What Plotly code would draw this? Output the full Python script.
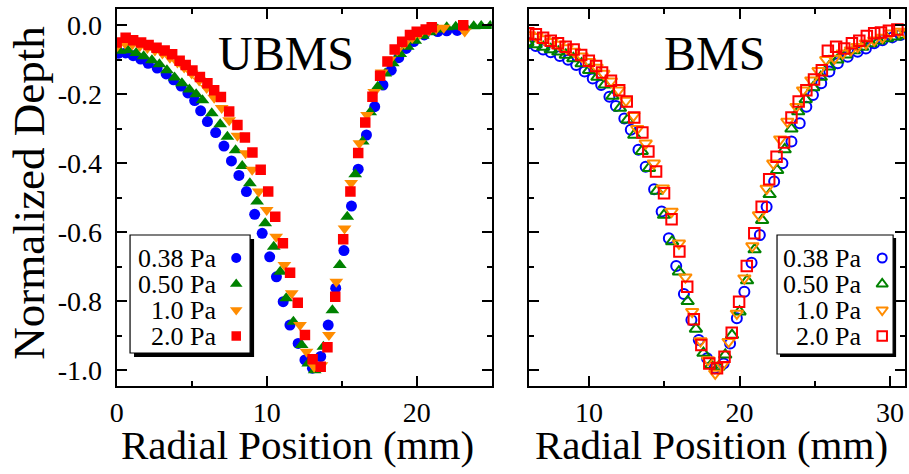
import plotly.graph_objects as go

# ---------------- data: normalized etch depth vs radial position ----------------
pressures = ["0.38 Pa", "0.50 Pa", "1.0 Pa", "2.0 Pa"]
colors = ["#0000ff", "#008200", "#ff8c00", "#ff0000"]
filled_symbols = ["circle", "triangle-up", "triangle-down", "square"]
open_symbols = ["circle-open", "triangle-up-open", "triangle-down-open", "square-open"]

# UBMS (unbalanced magnetron)
ubms_x_038 = [0.1, 0.6, 1.1, 1.6, 2.1, 2.7, 3.3, 3.8, 4.3, 4.75, 5.2, 5.6, 6.05, 6.6, 7.15, 7.65,
              8.15, 8.65, 9.2, 9.7, 10.2, 10.65, 11.1, 11.55, 12.1, 12.55, 13.05, 13.6, 14.1, 14.6,
              15.15, 15.65, 16.1, 16.65, 17.2, 17.75, 18.3, 18.8, 19.3, 19.8, 20.5, 21.4, 22.0, 22.7]
ubms_y_038 = [-0.081, -0.080, -0.088, -0.098, -0.110, -0.124, -0.141, -0.158, -0.176, -0.196, -0.218,
              -0.248, -0.279, -0.311, -0.350, -0.393, -0.435, -0.482, -0.548, -0.603, -0.671, -0.729,
              -0.801, -0.869, -0.922, -0.970, -0.994, -0.960, -0.869, -0.762, -0.653, -0.524, -0.417,
              -0.318, -0.236, -0.173, -0.130, -0.094, -0.067, -0.047, -0.028, -0.018, -0.016, -0.015]

ubms_x_050 = [0.2, 0.75, 1.3, 1.8, 2.35, 2.85, 3.35, 3.86, 4.35, 4.85, 5.3, 5.72, 6.34, 6.9, 7.38,
              7.93, 8.37, 8.88, 9.36, 9.9, 10.47, 10.9, 11.3, 11.78, 12.33, 12.77, 13.2, 13.78, 14.38,
              14.87, 15.37, 15.9, 16.4, 16.9, 17.4, 17.9, 18.4, 18.9, 19.4, 19.9, 20.4, 20.9, 21.4,
              22.0, 22.6, 23.2, 23.8, 24.3, 24.9]
ubms_y_050 = [-0.074, -0.072, -0.080, -0.090, -0.101, -0.113, -0.130, -0.151, -0.168, -0.186, -0.200,
              -0.217, -0.255, -0.287, -0.323, -0.362, -0.408, -0.458, -0.511, -0.574, -0.642, -0.714,
              -0.791, -0.859, -0.927, -0.980, -1.000, -0.932, -0.826, -0.695, -0.555, -0.432, -0.337,
              -0.252, -0.178, -0.140, -0.110, -0.083, -0.062, -0.045, -0.030, -0.020, -0.012, -0.006,
              -0.004, -0.003, -0.003, -0.002, -0.002]

ubms_x_10 = [0.05, 0.55, 1.05, 1.55, 2.05, 2.55, 3.05, 3.55, 4.05, 4.5, 5.0, 5.5, 6.0, 6.5, 7.0,
             7.5, 8.05, 8.59, 9.03, 9.47, 10.0, 10.63, 11.18, 11.67, 12.22, 12.66, 13.16, 13.65,
             14.15, 14.64, 15.19, 15.63, 16.18, 16.69, 17.17, 17.66, 18.2, 18.7, 19.2, 19.7, 20.2,
             20.8, 21.3, 21.8, 23.2]
ubms_y_10 = [-0.060, -0.052, -0.055, -0.060, -0.066, -0.073, -0.082, -0.094, -0.108, -0.122, -0.140,
             -0.160, -0.182, -0.210, -0.240, -0.275, -0.320, -0.371, -0.419, -0.482, -0.535, -0.613,
             -0.695, -0.777, -0.869, -0.946, -0.990, -0.985, -0.898, -0.743, -0.589, -0.457, -0.342,
             -0.260, -0.193, -0.137, -0.100, -0.072, -0.052, -0.036, -0.025, -0.016, -0.010, -0.007,
             -0.018]

ubms_x_20 = [0.0, 0.6, 1.1, 1.63, 2.13, 2.66, 3.2, 3.7, 4.2, 4.6, 5.05, 5.55, 6.05, 6.5, 6.95, 7.5,
             8.05, 8.55, 9.05, 9.6, 10.1, 10.57, 11.08, 11.56, 12.07, 12.55, 13.06, 13.6, 14.05,
             14.57, 15.1, 15.58, 16.1, 16.57, 17.05, 17.56, 18.05, 18.53, 19.03, 19.55, 20.0, 20.6,
             21.0, 23.1]
ubms_y_20 = [-0.050, -0.036, -0.043, -0.050, -0.057, -0.065, -0.073, -0.084, -0.103, -0.115, -0.131,
             -0.150, -0.168, -0.188, -0.208, -0.250, -0.289, -0.325, -0.369, -0.419, -0.482, -0.555,
             -0.632, -0.717, -0.804, -0.898, -0.968, -0.990, -0.933, -0.787, -0.620, -0.482, -0.370,
             -0.282, -0.207, -0.146, -0.105, -0.070, -0.048, -0.028, -0.019, -0.012, -0.006, 0.000]

# BMS (balanced magnetron)
bms_x_038 = [5.95, 6.45, 6.94, 7.45, 8.05, 8.6, 9.14, 9.7, 10.24, 10.8, 11.35, 11.78, 12.34, 12.77,
             13.28, 13.76, 14.32, 14.82, 15.3, 15.79, 16.3, 16.8, 17.29, 17.84, 18.34, 18.94, 19.37,
             19.82, 20.32, 20.8, 21.35, 21.8, 22.3, 22.85, 23.45, 24.0, 24.44, 24.88, 25.43, 25.97,
             26.53, 27.19, 27.85, 28.4, 28.95, 29.5, 30.16, 30.7]
bms_y_038 = [-0.052, -0.060, -0.070, -0.078, -0.089, -0.100, -0.115, -0.134, -0.154, -0.173, -0.207,
             -0.234, -0.270, -0.303, -0.361, -0.410, -0.475, -0.540, -0.617, -0.698, -0.779, -0.854,
             -0.912, -0.965, -0.994, -0.980, -0.922, -0.849, -0.772, -0.688, -0.608, -0.526, -0.453,
             -0.400, -0.337, -0.284, -0.236, -0.202, -0.168, -0.134, -0.110, -0.091, -0.077, -0.067,
             -0.052, -0.043, -0.035, -0.028]

bms_x_050 = [5.9, 6.45, 6.95, 7.45, 7.95, 8.45, 8.95, 9.5, 10.0, 10.55, 11.05, 11.55, 12.05, 12.55,
             13.0, 13.5, 13.98, 14.5, 14.98, 15.52, 15.97, 16.55, 17.1, 17.6, 18.1, 18.6, 19.05, 19.5,
             20.0, 20.5, 21.0, 21.5, 22.0, 22.5, 23.0, 23.45, 23.9, 24.4, 24.9, 25.4, 25.95, 26.5,
             27.05, 27.6, 28.15, 28.7, 29.25, 29.8, 30.35, 30.9]
bms_y_050 = [-0.050, -0.056, -0.063, -0.070, -0.077, -0.086, -0.096, -0.111, -0.130, -0.150, -0.172,
             -0.205, -0.240, -0.274, -0.318, -0.365, -0.414, -0.480, -0.550, -0.627, -0.714, -0.800,
             -0.880, -0.950, -0.985, -0.990, -0.955, -0.898, -0.830, -0.740, -0.650, -0.565, -0.490,
             -0.420, -0.360, -0.300, -0.250, -0.215, -0.180, -0.150, -0.120, -0.100, -0.085, -0.073,
             -0.063, -0.053, -0.045, -0.038, -0.033, -0.028]

bms_x_10 = [6.0, 6.5, 7.0, 7.5, 8.0, 8.5, 9.0, 9.5, 10.0, 10.5, 10.95, 11.45, 11.95, 12.45, 12.95,
            13.2, 13.76, 14.3, 14.9, 15.48, 15.97, 16.4, 16.85, 17.4, 17.9, 18.38, 18.85, 19.27, 19.82,
            20.32, 20.85, 21.29, 21.8, 22.24, 22.7, 23.18, 23.78, 24.22, 24.77, 25.25, 25.76, 26.3,
            26.86, 27.4, 27.85, 28.4, 28.95, 29.5, 30.05, 30.6, 31.0]
bms_y_10 = [-0.028, -0.033, -0.040, -0.048, -0.056, -0.066, -0.076, -0.090, -0.106, -0.122, -0.140,
            -0.162, -0.188, -0.218, -0.262, -0.300, -0.342, -0.400, -0.472, -0.540, -0.632, -0.730,
            -0.830, -0.915, -0.970, -1.009, -0.985, -0.917, -0.835, -0.733, -0.640, -0.550, -0.473,
            -0.400, -0.330, -0.279, -0.236, -0.188, -0.159, -0.132, -0.100, -0.096, -0.081, -0.072,
            -0.062, -0.052, -0.043, -0.035, -0.023, -0.018, -0.021]

bms_x_20 = [5.95, 6.46, 6.94, 7.45, 7.93, 8.44, 8.97, 9.47, 9.98, 10.46, 10.86, 11.45, 12.0, 12.5,
            13.0, 13.54, 13.94, 14.45, 14.98, 15.48, 16.0, 16.52, 16.96, 17.46, 17.99, 18.5, 19.0,
            19.48, 19.97, 20.48, 20.98, 21.47, 21.97, 22.46, 22.96, 23.45, 23.93, 24.44, 24.95,
            25.47, 25.87, 26.42, 26.96, 27.47, 27.96, 28.46, 28.95, 29.4, 29.93, 30.49]
bms_y_20 = [-0.023, -0.026, -0.036, -0.045, -0.052, -0.062, -0.070, -0.086, -0.103, -0.118, -0.137,
            -0.161, -0.188, -0.221, -0.267, -0.311, -0.366, -0.424, -0.487, -0.562, -0.656, -0.758,
            -0.852, -0.927, -0.980, -0.994, -0.961, -0.891, -0.801, -0.698, -0.603, -0.526, -0.446,
            -0.381, -0.340, -0.267, -0.221, -0.188, -0.157, -0.130, -0.074, -0.062, -0.067, -0.052,
            -0.045, -0.031, -0.023, -0.021, -0.016, -0.012]

ubms_series = [(ubms_x_038, ubms_y_038), (ubms_x_050, ubms_y_050),
               (ubms_x_10, ubms_y_10), (ubms_x_20, ubms_y_20)]
bms_series = [(bms_x_038, bms_y_038), (bms_x_050, bms_y_050),
              (bms_x_10, bms_y_10), (bms_x_20, bms_y_20)]

y_tick_vals = [0.0, -0.2, -0.4, -0.6, -0.8, -1.0]
y_tick_text = ["0.0", "-0.2", "-0.4", "-0.6", "-0.8", "-1.0"]
ubms_x_tick_vals = [0, 10, 20]
ubms_x_tick_text = ["0", "10", "20"]
bms_x_tick_vals = [10, 20, 30]
bms_x_tick_text = ["10", "20", "30"]

# ---------------- layout constants (pixels in a 909 x 474 page) ----------------
W, H = 909, 474
FONT = "Liberation Serif, Times New Roman, serif"
LEFT_PX = (110.5, 488.5)
RIGHT_PX = (526.0, 905.0)
TOP_PX, BOTTOM_PX = 9.0, 386.0

filled_sizes = [11, 12, 12, 10.5]
open_sizes = [10, 11, 11, 10.5]


def xdom(px):
    return [px[0] / W, px[1] / W]


ydom = [1 - BOTTOM_PX / H, 1 - TOP_PX / H]

fig = go.Figure()

for (xs, ys), name, c, sym, sz in zip(ubms_series, pressures, colors, filled_symbols, filled_sizes):
    fig.add_trace(go.Scatter(x=xs, y=ys, mode="markers", name=name, showlegend=False,
                             xaxis="x", yaxis="y",
                             marker=dict(symbol=sym, size=sz, color=c, line=dict(width=0))))

for (xs, ys), name, c, sym, sz in zip(bms_series, pressures, colors, open_symbols, open_sizes):
    fig.add_trace(go.Scatter(x=xs, y=ys, mode="markers", name=name, showlegend=False,
                             xaxis="x2", yaxis="y2",
                             marker=dict(symbol=sym, size=sz, color=c, line=dict(width=2, color=c))))

# legend keys: drawn on a pixel-unit overlay axis so they sit inside the boxes
LEG_ROWS = [258, 284, 310, 336]
LEG_LEFT = dict(box=(124, 235, 245, 353), shadow=4, text_right=213, key_x=231)
LEG_RIGHT = dict(box=(776, 235, 893, 354), shadow=3, text_right=863, key_x=882)

for i, (c, sym, sz) in enumerate(zip(colors, filled_symbols, filled_sizes)):
    fig.add_trace(go.Scatter(x=[LEG_LEFT["key_x"]], y=[LEG_ROWS[i]], mode="markers",
                             showlegend=False, xaxis="x3", yaxis="y3", hoverinfo="skip",
                             marker=dict(symbol=sym, size=sz - 1, color=c, line=dict(width=0))))
for i, (c, sym, sz) in enumerate(zip(colors, open_symbols, open_sizes)):
    fig.add_trace(go.Scatter(x=[LEG_RIGHT["key_x"]], y=[LEG_ROWS[i]], mode="markers",
                             showlegend=False, xaxis="x3", yaxis="y3", hoverinfo="skip",
                             marker=dict(symbol=sym, size=sz - 1, color=c,
                                         line=dict(width=2, color=c))))

shapes = []
annotations = []
for leg in (LEG_LEFT, LEG_RIGHT):
    x0, y0, x1, y1 = leg["box"]
    s = leg["shadow"]
    shapes.append(dict(type="rect", xref="paper", yref="paper", layer="below",
                       x0=(x0 + s) / W, x1=(x1 + s) / W, y0=1 - (y1 + s) / H, y1=1 - (y0 + s) / H,
                       fillcolor="black", line=dict(width=0)))
    shapes.append(dict(type="rect", xref="paper", yref="paper", layer="below",
                       x0=x0 / W, x1=x1 / W, y0=1 - y1 / H, y1=1 - y0 / H,
                       fillcolor="white", line=dict(color="black", width=1.2)))
    for i, name in enumerate(pressures):
        annotations.append(dict(xref="paper", yref="paper", x=leg["text_right"] / W,
                                y=1 - LEG_ROWS[i] / H, xanchor="right", yanchor="middle",
                                text=name, showarrow=False,
                                font=dict(family=FONT, size=26, color="black")))

# panel labels and axis titles
annotations += [
    dict(xref="paper", yref="paper", x=281 / W, y=1 - 54 / H, text="UBMS", showarrow=False,
         xanchor="center", yanchor="middle", font=dict(family=FONT, size=48, color="black")),
    dict(xref="paper", yref="paper", x=713 / W, y=1 - 54 / H, text="BMS", showarrow=False,
         xanchor="center", yanchor="middle", font=dict(family=FONT, size=48, color="black")),
    dict(xref="paper", yref="paper", x=293 / W, y=1 - 445 / H,
         text="Radial Position (mm)", showarrow=False, xanchor="center", yanchor="middle",
         font=dict(family=FONT, size=41, color="black")),
    dict(xref="paper", yref="paper", x=710 / W, y=1 - 445 / H,
         text="Radial Position (mm)", showarrow=False, xanchor="center", yanchor="middle",
         font=dict(family=FONT, size=41, color="black")),
    dict(xref="paper", yref="paper", x=22 / W, y=1 - 193 / H, text="Normalized Depth",
         showarrow=False, textangle=-90, xanchor="center", yanchor="middle",
         font=dict(family=FONT, size=45, color="black")),
]

tick_font = dict(family=FONT, size=28, color="black")
common_axis = dict(showline=True, linecolor="black", linewidth=2, mirror="ticks",
                   ticks="inside", ticklen=10, tickwidth=1.5, tickcolor="black",
                   showgrid=False, zeroline=False, tickfont=tick_font, tickmode="array")

y_range = [-1.0 - (BOTTOM_PX - 370.3) / 345.0, 0.0 + (25.3 - TOP_PX) / 345.0]

fig.update_layout(
    width=W, height=H,
    margin=dict(l=0, r=0, t=0, b=0),
    paper_bgcolor="white",
    plot_bgcolor="rgba(0,0,0,0)",
    showlegend=False,
    xaxis=dict(domain=xdom(LEFT_PX), range=[0, 25], anchor="y",
               tickvals=ubms_x_tick_vals, ticktext=ubms_x_tick_text, ticklabelstandoff=0,
               minor=dict(tickmode="linear", tick0=0, dtick=5, ticks="inside", ticklen=5,
                          tickwidth=1.5, tickcolor="black", showgrid=False),
               **common_axis),
    yaxis=dict(domain=ydom, range=y_range, anchor="x",
               tickvals=y_tick_vals, ticktext=y_tick_text, ticklabelstandoff=7,
               minor=dict(tickmode="linear", tick0=0, dtick=0.1, ticks="inside", ticklen=5,
                          tickwidth=1.5, tickcolor="black", showgrid=False),
               **common_axis),
    xaxis2=dict(domain=xdom(RIGHT_PX), range=[6, 31], anchor="y2",
                tickvals=bms_x_tick_vals, ticktext=bms_x_tick_text, ticklabelstandoff=0,
                minor=dict(tickmode="linear", tick0=0, dtick=5, ticks="inside", ticklen=5,
                           tickwidth=1.5, tickcolor="black", showgrid=False),
                **common_axis),
    yaxis2=dict(domain=ydom, range=y_range, anchor="x2", showticklabels=False,
                tickvals=y_tick_vals, ticktext=y_tick_text,
                minor=dict(tickmode="linear", tick0=0, dtick=0.1, ticks="inside", ticklen=5,
                           tickwidth=1.5, tickcolor="black", showgrid=False),
                **common_axis),
    xaxis3=dict(domain=[0, 1], range=[0, W], visible=False, anchor="y3", fixedrange=True),
    yaxis3=dict(domain=[0, 1], range=[H, 0], visible=False, anchor="x3", fixedrange=True),
    shapes=shapes,
    annotations=annotations,
)

fig.write_html("out.html")
